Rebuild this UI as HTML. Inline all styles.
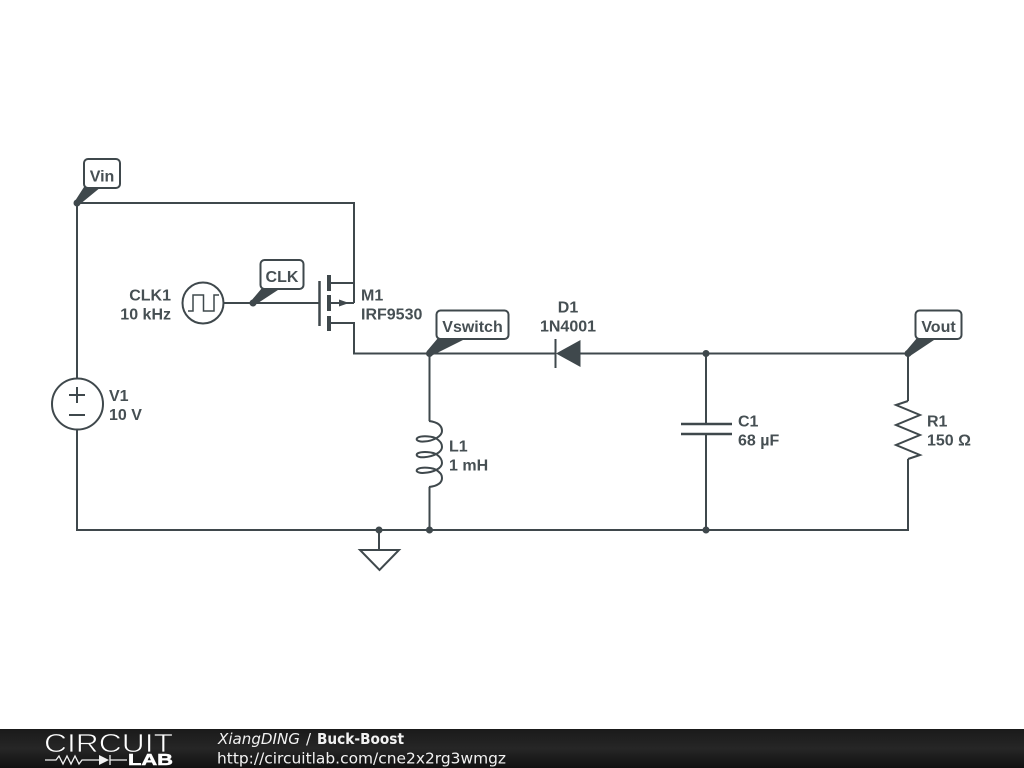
<!DOCTYPE html>
<html><head><meta charset="utf-8"><style>
html,body{margin:0;padding:0;background:#fff;width:1024px;height:768px;overflow:hidden}
svg{display:block}
.w{fill:none;stroke:#3f484c;stroke-width:2}
.t{font-family:"Liberation Sans",sans-serif;font-size:16px;font-weight:bold;fill:#464f53}
.f{font-family:"DejaVu Sans",sans-serif;font-size:15px;fill:#f2f2f2}
</style></head><body>
<svg width="1024" height="768" viewBox="0 0 1024 768" xmlns="http://www.w3.org/2000/svg">
<defs><linearGradient id="g" x1="0" y1="0" x2="0" y2="1"><stop offset="0" stop-color="#1a1a1a"/><stop offset=".5" stop-color="#262626"/><stop offset="1" stop-color="#111"/></linearGradient></defs>
<rect width="1024" height="768" fill="#fff"/>
<path class="w" d="M77 378V203H354V303M354 283H328M354 303H328M328 323H354V353.500H555M580 353.500H908V401M77 430V530H908V459M429.500 353.500V421M429.500 487V530M706 353.500V424M706 434V530M224 303H319M379 530V550"/>
<circle class="w" cx="77.500" cy="404" r="25.500"/>
<path class="w" d="M69 395H85M77 387V403M69 415H85"/>
<circle class="w" cx="203" cy="303" r="20.500"/>
<path class="w" style="stroke-width:1.500" d="M188 311H193V295H203.500V311H214V295H219"/>
<path class="w" style="stroke-width:2.500" d="M319.500 281V326"/>
<path d="M327 275h4v16h-4zM327 295h4v16h-4zM327 316h4v15h-4z" fill="#3f484c"/>
<path d="M339 299.500L349 303L339 306.500z" fill="#3f484c"/>
<path class="w" d="M555.500 339V368"/>
<path d="M556 353.500L580.500 340V367z" fill="#3f484c"/>
<path class="w" style="stroke-width:2.500" d="M681 424H732M681 434H732"/>
<path class="w" d="M908 401L896 405L920 415L896 425L920 435L896 445L920 455L908 459"/>
<path class="w" d="M429 421C437 422 442 425 442 431C442 436 434 441 424 441.500C417 442 415 439 418 437.500C422 435.500 433 436 437 439C441 442 442 444 442 447C442 452 434 456.700 424 457.200C417 457.700 415 454.700 418 453.200C422 451.200 433 451.700 437 454.700C441 457.700 442 460 442 463C442 468 434 472.400 424 472.900C417 473.400 415 470.400 418 468.900C422 466.900 433 467.400 437 470.400C441 473.400 442 475 442 478C442 483 437 486 429 487"/>
<path class="w" d="M360 550H399L379.500 570z"/>
<g fill="#3f484c">
<circle cx="77" cy="203" r="3.500"/><circle cx="253" cy="303" r="3.500"/><circle cx="429.500" cy="353.500" r="3.500"/><circle cx="706" cy="353.500" r="3.500"/><circle cx="908" cy="353.500" r="3.500"/><circle cx="379" cy="530" r="3.500"/><circle cx="429.500" cy="530" r="3.500"/><circle cx="706" cy="530" r="3.500"/>
<path d="M75 201L84 187H101L79 205z"/>
<path d="M251 301L262 288H281L255 305z"/>
<path d="M427 351L438 338H467L431 356z"/>
<path d="M906 351L917 338H937L910 356z"/>
</g>
<g fill="#fff" stroke="#3f484c" stroke-width="2">
<rect x="84" y="159" width="36" height="29" rx="4"/>
<rect x="260.500" y="260" width="43" height="29" rx="4"/>
<rect x="436.500" y="310.500" width="72" height="28.500" rx="4"/>
<rect x="915.500" y="310.500" width="46" height="28.500" rx="4"/>
</g>
<g class="t">
<text x="102" y="181.500" text-anchor="middle">Vin</text>
<text x="282" y="282" text-anchor="middle">CLK</text>
<text x="472.500" y="332" text-anchor="middle">Vswitch</text>
<text x="938.500" y="332" text-anchor="middle">Vout</text>
<text x="171" y="300.500" text-anchor="end">CLK1</text>
<text x="171" y="319.500" text-anchor="end">10 kHz</text>
<text x="361" y="300.500">M1</text>
<text x="361" y="319.500">IRF9530</text>
<text x="568" y="312.500" text-anchor="middle">D1</text>
<text x="568" y="331.500" text-anchor="middle">1N4001</text>
<text x="109" y="401">V1</text>
<text x="109" y="420">10 V</text>
<text x="449" y="451.500">L1</text>
<text x="449" y="470.500">1 mH</text>
<text x="738" y="426.500">C1</text>
<text x="738" y="445.500">68 µF</text>
<text x="927" y="426.500">R1</text>
<text x="927" y="445.500">150 Ω</text>
</g>
<rect y="729" width="1024" height="39" fill="url(#g)"/>
<text x="44" y="752" font-family="Liberation Sans, sans-serif" font-size="26" fill="#fff" stroke="#222" stroke-width=".7" textLength="129" lengthAdjust="spacingAndGlyphs">CIRCUIT</text>
<path d="M45 760H56L59 756L63 764L67 756L71 764L75 756L79 764L82 760H99M110 760H127M110 755V765" fill="none" stroke="#f2f2f2" stroke-width="1.300"/>
<path d="M99 755L109 760L99 765z" fill="#f2f2f2"/>
<text x="128" y="765" font-family="Liberation Sans, sans-serif" font-size="15.500" font-weight="bold" fill="#fff" stroke="#fff" stroke-width=".5" textLength="45" lengthAdjust="spacingAndGlyphs">LAB</text>
<text class="f" x="218" y="744" font-style="italic" textLength="82" lengthAdjust="spacingAndGlyphs">XiangDING</text>
<text class="f" x="306" y="744">/</text>
<text class="f" x="317" y="744" font-weight="bold" textLength="87" lengthAdjust="spacingAndGlyphs">Buck-Boost</text>
<text class="f" x="217" y="763.500" textLength="289" lengthAdjust="spacingAndGlyphs">http://circuitlab.com/cne2x2rg3wmgz</text>
</svg>
</body></html>
